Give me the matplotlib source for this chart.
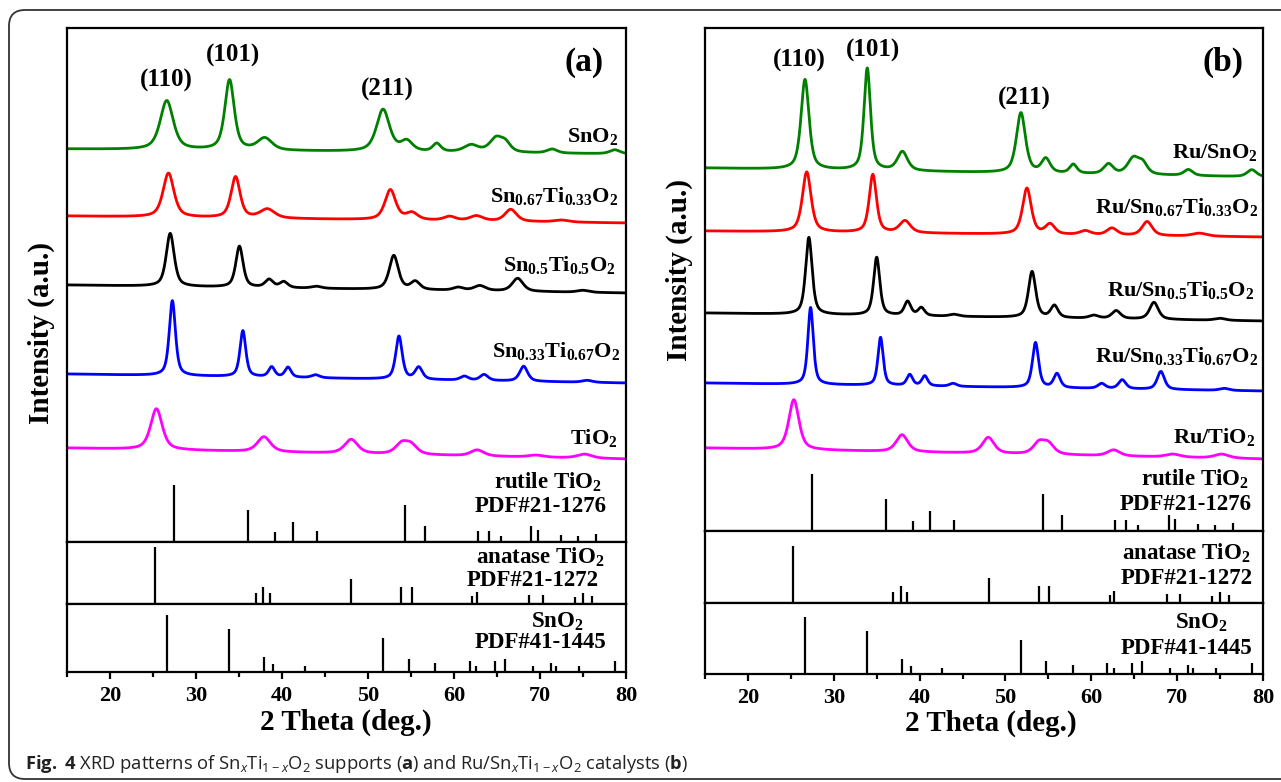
import numpy as np
import matplotlib
matplotlib.use('Agg')
import matplotlib.pyplot as plt
from matplotlib.patches import FancyBboxPatch

plt.rcParams['font.family'] = ['Liberation Serif', 'DejaVu Serif']
plt.rcParams['font.weight'] = 'bold'
plt.rcParams['mathtext.fontset'] = 'custom'
plt.rcParams['mathtext.bf'] = 'Liberation Serif:bold'
plt.rcParams['mathtext.rm'] = 'Open Sans:normal'
plt.rcParams['mathtext.it'] = 'Open Sans:italic:normal'
plt.rcParams['mathtext.sf'] = 'Open Sans:bold'

# --- data: XRD peaks as (2theta, height, fwhm), heights in a.u.
# panel (a): supports
a_sno2 = [(26.6, 49, 1.8), (33.9, 70, 1.3), (38.0, 12, 2.0), (51.75, 42, 1.8), (54.5, 10, 1.6),
          (58.0, 8, 1.1), (62.0, 7, 2.0), (64.9, 14, 1.8), (66.0, 8, 1.4), (71.4, 4, 1.4), (78.7, 4, 1.4)]
a_sn67 = [(26.8, 44, 1.5), (34.6, 41, 1.25), (38.3, 9, 2.0), (52.6, 30, 1.5), (55.1, 7, 1.6),
          (59.5, 4, 1.6), (62.6, 5, 1.8), (66.6, 12, 1.6), (72.5, 2, 2.0)]
a_sn50 = [(27.0, 53, 1.1), (35.05, 41, 1.0), (38.5, 8, 1.1), (40.2, 6, 1.1), (44.0, 2, 1.4),
          (53.0, 34, 1.25), (55.5, 8, 1.25), (60.5, 3, 1.4), (63.0, 5, 1.6), (67.4, 13, 1.5), (75.0, 2, 1.6)]
a_sn33 = [(27.25, 75, 0.85), (35.45, 46, 0.8), (38.8, 10, 0.85), (40.7, 10, 0.85), (43.9, 3, 1.1),
          (53.6, 43, 0.9), (55.9, 12, 1.0), (61.2, 4, 1.1), (63.5, 6, 1.1), (68.1, 15, 1.1), (75.5, 2, 1.4)]
a_tio2 = [(25.4, 41, 1.6), (37.9, 15, 1.8), (48.05, 14, 1.8), (53.9, 10, 1.7), (55.0, 9, 1.7),
          (62.7, 6, 1.8), (69.5, 2, 2.0), (75.2, 4, 2.0)]
a_base_start = [393, 326, 257, 168, 94]
a_base_end = [388, 319, 249, 159, 83]
a_names = ['SnO$_{\\mathbf{2}}$', 'Sn$_{\\mathbf{0.67}}$Ti$_{\\mathbf{0.33}}$O$_{\\mathbf{2}}$',
           'Sn$_{\\mathbf{0.5}}$Ti$_{\\mathbf{0.5}}$O$_{\\mathbf{2}}$',
           'Sn$_{\\mathbf{0.33}}$Ti$_{\\mathbf{0.67}}$O$_{\\mathbf{2}}$', 'TiO$_{\\mathbf{2}}$']

# panel (b): Ru catalysts
b_sno2 = [(26.65, 90, 1.1), (33.9, 102, 0.9), (38.0, 19, 1.4), (51.8, 60, 1.25), (54.7, 14, 1.2),
          (57.9, 9, 1.0), (62.0, 10, 1.3), (64.9, 16, 1.6), (66.0, 10, 1.3), (71.3, 6, 1.2), (78.7, 7, 1.3)]
b_sn67 = [(26.85, 60, 1.2), (34.55, 58, 1.0), (38.3, 12, 1.5), (52.5, 46, 1.2), (55.2, 10, 1.3),
          (59.3, 4, 1.5), (62.4, 7, 1.4), (66.5, 14, 1.4), (72.6, 3, 2.0)]
b_sn50 = [(27.1, 77, 0.9), (35.0, 58, 0.85), (38.6, 14, 0.9), (40.2, 8, 0.9), (44.0, 2, 1.3),
          (53.1, 46, 1.0), (55.7, 12, 1.0), (60.3, 3, 1.3), (62.9, 8, 1.2), (67.3, 17, 1.2), (75.0, 2, 1.5)]
b_sn33 = [(27.3, 77, 0.75), (35.45, 48, 0.72), (38.85, 11, 0.8), (40.6, 10, 0.8), (43.9, 3, 1.0),
          (53.5, 45, 0.85), (56.0, 14, 0.9), (61.2, 5, 1.0), (63.6, 9, 1.0), (68.1, 18, 1.0), (75.5, 2, 1.3)]
b_tio2 = [(25.35, 50, 1.4), (37.95, 17, 1.6), (48.0, 16, 1.6), (53.9, 11, 1.6), (55.0, 10, 1.6),
          (62.6, 6, 1.7), (69.5, 3, 2.0), (75.2, 4, 2.0)]
b_base_start = [363, 300, 218, 148, 83]
b_base_end = [354, 294, 210, 140, 72]
b_names = ['Ru/' + n for n in a_names]

colors = ['#008000', '#ff0000', '#000000', '#0000ff', '#ff00ff']

# reference cards (2theta, relative intensity)
rutile_pos = [27.45, 36.09, 39.19, 41.23, 44.05, 54.32, 56.64, 62.74, 64.04, 65.48, 69.01, 69.79, 72.41, 74.41, 76.51]
rutile_int = [100, 56, 18, 35, 19, 65, 28, 19, 19, 10, 28, 21, 12, 10, 14]
anatase_pos = [25.28, 36.95, 37.80, 38.57, 48.05, 53.89, 55.06, 62.12, 62.69, 68.76, 70.31, 74.03, 75.03, 76.02]
anatase_int = [100, 20, 29, 20, 43, 29, 29, 14, 21, 16, 16, 12, 20, 14]
sno2_pos = [26.61, 33.89, 37.95, 38.97, 42.64, 51.78, 54.76, 57.82, 61.87, 62.59, 64.72, 65.94, 69.20,
            71.25, 71.90, 74.50, 78.70]
sno2_int = [100, 75, 27, 14, 10, 59, 22, 15, 19, 10, 20, 22, 10, 15, 10, 10, 19]

W, H = 1281, 782
fig = plt.figure(figsize=(W / 100, H / 100), dpi=100)


def rect(l, t, r, b):
    return [l / W, 1 - b / H, (r - l) / W, (b - t) / H]


def ftext(x, y, s, **kw):
    fig.text(x / W, 1 - y / H, s, **kw)


def profile(x, peaks, b0, b1):
    y = b0 + (b1 - b0) * (x - 15) / 65
    for c, h, w in peaks:
        d = (x - c) / (w / 2)
        y = y + h * (0.6 / (1 + d ** 2) + 0.4 * np.exp(-np.log(2) * d ** 2))
    return y


def frame(ax):
    ax.set_xlim(15, 80)
    ax.set_yticks([])
    for s in ax.spines.values():
        s.set_linewidth(1.6)


panels = [
    dict(x0=67, x1=626, top=28, rut=542, ana=604, bot=672,
         curves=[a_sno2, a_sn67, a_sn50, a_sn33, a_tio2], b0=a_base_start, b1=a_base_end,
         names=a_names, name_x=[618, 618, 616, 620, 618], name_y=[137, 197, 266, 352, 439],
         hkl=[(166, 80), (233, 55), (387, 89)], tag='(a)', tag_xy=(584, 62),
         cards=[(548, 482, 541, 507), (540, 557, 533, 581), (557, 622, 541, 643)],
         xlab=(346, 722), ylab=(41, 333)),
    dict(x0=705, x1=1263, top=28, rut=531, ana=603, bot=674,
         curves=[b_sno2, b_sn67, b_sn50, b_sn33, b_tio2], b0=b_base_start, b1=b_base_end,
         names=b_names, name_x=[1258, 1258, 1254, 1258, 1255], name_y=[153, 208, 291, 357, 438],
         hkl=[(799, 60), (873, 50), (1024, 98)], tag='(b)', tag_xy=(1223, 62),
         cards=[(1195, 479, 1186, 505), (1186, 553, 1187, 578), (1201, 623, 1187, 648)],
         xlab=(991, 723), ylab=(679, 270)),
]

card_names = [('rutile TiO$_{\\mathbf{2}}$', 'PDF#21-1276'),
              ('anatase TiO$_{\\mathbf{2}}$', 'PDF#21-1272'),
              ('SnO$_{\\mathbf{2}}$', 'PDF#41-1445')]

x = np.linspace(15, 80, 4000)
stick_px = 57

for p in panels:
    ax = fig.add_axes(rect(p['x0'], p['top'], p['x1'], p['rut']))
    frame(ax)
    ax.set_xticks([])
    ax.set_ylim(0, p['rut'] - p['top'])
    for pk, b0, b1, c in zip(p['curves'], p['b0'], p['b1'], colors):
        ax.plot(x, profile(x, pk, b0, b1), color=c, lw=2.0)
    ax.vlines(rutile_pos, 0, np.array(rutile_int) / 100 * stick_px, color='black', lw=1.6)

    ax2 = fig.add_axes(rect(p['x0'], p['rut'], p['x1'], p['ana']))
    frame(ax2)
    ax2.set_xticks([])
    ax2.set_ylim(0, p['ana'] - p['rut'])
    ax2.vlines(anatase_pos, 0, np.array(anatase_int) / 100 * stick_px, color='black', lw=1.6)

    ax3 = fig.add_axes(rect(p['x0'], p['ana'], p['x1'], p['bot']))
    frame(ax3)
    ax3.set_ylim(0, p['bot'] - p['ana'])
    ax3.vlines(sno2_pos, 0, np.array(sno2_int) / 100 * stick_px, color='black', lw=1.6)
    ax3.set_xticks(range(20, 81, 10))
    ax3.set_xticks(range(15, 80, 10), minor=True)
    ax3.tick_params(axis='x', which='major', direction='out', length=5, width=1.6, pad=5,
                    labelsize=16)
    ax3.tick_params(axis='x', which='minor', direction='out', length=3.5, width=1.6)
    for lab in ax3.get_xticklabels():
        lab.set_fontweight('bold')

    for (hx, hy), s in zip(p['hkl'], ['(110)', '(101)', '(211)']):
        ftext(hx, hy, s, ha='center', va='center', fontsize=18, fontweight='bold')
    ftext(p['tag_xy'][0], p['tag_xy'][1], p['tag'], ha='center', va='center', fontsize=24,
          fontweight='bold')
    for n, nx, ny in zip(p['names'], p['name_x'], p['name_y']):
        ftext(nx, ny, n, ha='right', va='center', fontsize=16, fontweight='bold')
    for (x1, y1, x2, y2), (n1, n2) in zip(p['cards'], card_names):
        ftext(x1, y1, n1, ha='center', va='center', fontsize=16.5, fontweight='bold')
        ftext(x2, y2, n2, ha='center', va='center', fontsize=16.5, fontweight='bold')
    ftext(p['xlab'][0], p['xlab'][1], '2 Theta (deg.)', ha='center', va='center', fontsize=21,
          fontweight='bold')
    ftext(p['ylab'][0], p['ylab'][1], 'Intensity (a.u.)', ha='center', va='center', fontsize=21,
          fontweight='bold', rotation=90)

# caption and rounded border
ftext(25, 764, r'$\mathsf{Fig.}$ $\mathsf{4}$ XRD patterns of Sn$_x$Ti$_{1-x}$O$_2$ supports ($\mathsf{a}$) and '
      r'Ru/Sn$_x$Ti$_{1-x}$O$_2$ catalysts ($\mathsf{b}$)',
      ha='left', va='center', fontsize=13.2, fontweight='normal', family=['Open Sans', 'DejaVu Sans'],
      color='#222222')
border = FancyBboxPatch((9, 3), 1320, 769, boxstyle='round,pad=0,rounding_size=16',
                        transform=None, fill=False, lw=1.3, edgecolor='#333333')
fig.add_artist(border)

fig.savefig('out.png', dpi=100)
